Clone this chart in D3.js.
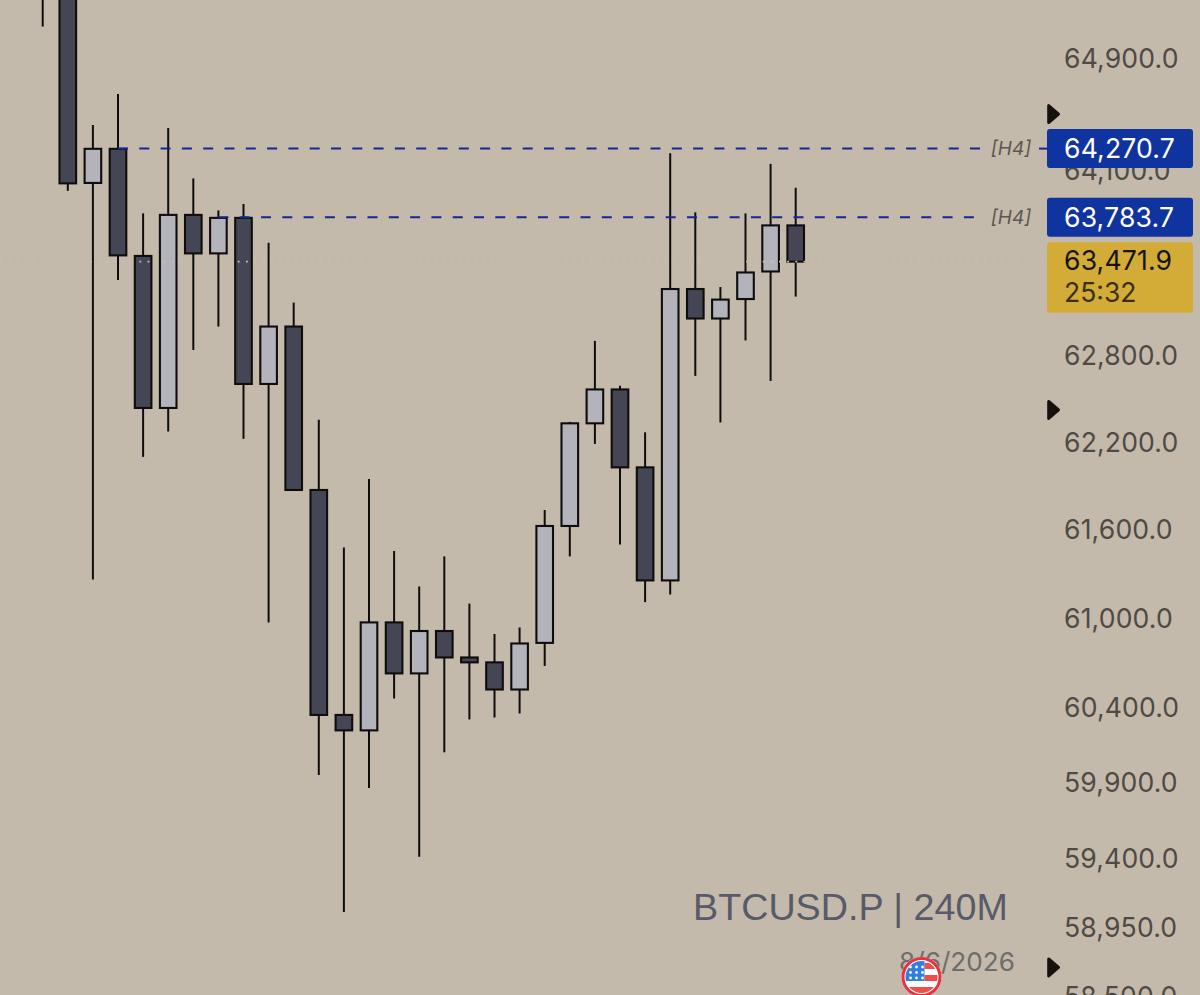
<!DOCTYPE html>
<html>
<head>
<meta charset="utf-8">
<script src="https://cdn.jsdelivr.net/npm/d3@7"></script>
<style>
  html, body { margin: 0; padding: 0; background: #c3baab; }
  svg { display: block; }
  text { font-family: Inter, "Liberation Sans", sans-serif; }
</style>
</head>
<body>
<svg id="chart" width="1200" height="995"></svg>
<script>
// 4h candles. The first two open above the visible area.
const opens  = [65620, 65370, 64027, 64269, 63512, 62453, 63801, 63530, 63780, 62619, 63018, 61889, 60368, 60265, 60989, 60646, 60931, 60753, 60720, 60538, 60851, 61643, 62347, 62581, 62044, 61273, 63280, 63074, 63210, 63403, 63727];
const highs  = [65700, 65450, 64439, 64660, 63812, 64418, 64059, 63833, 63878, 63604, 63185, 62371, 61497, 61965, 61473, 61232, 61436, 61116, 60911, 60955, 61752, 62357, 62918, 62606, 62285, 64237, 63819, 63294, 63812, 64162, 63993];
const lows   = [65144, 63971, 61279, 63343, 62116, 62291, 62855, 63018, 62240, 60989, 61889, 59968, 59066, 59882, 60478, 59428, 60119, 60338, 60351, 60378, 60696, 61436, 62205, 61517, 61126, 61177, 62675, 62353, 62921, 62640, 63227];
const closes = [65370, 64024, 64269, 63516, 62453, 63801, 63530, 63780, 62619, 63018, 61889, 60368, 60265, 60989, 60646, 60931, 60753, 60720, 60538, 60847, 61643, 62347, 62581, 62044, 61273, 63280, 63074, 63206, 63396, 63727, 63471.9];

const tickValues = [64900, 64100, 62800, 62200, 61600, 61000, 60400, 59900, 59400, 58950, 58500];
const levelPrices = [64270.7, 63783.7];
const levelStarts = [3, 7];      // candle the level is drawn from
const levelTag = "[H4]";
const lastPrice = 63471.9;
const countdown = "25:32";
const markerPrices = [64517, 62439, 58705];   // the little arrows on the price scale
const title = "BTCUSD.P | 240M";
const dateLabel = "8/6/2026";

const colors = {
    wick: "#0f0d0b", up: "#b3b3bc", down: "#444656",
    level: "#14298f", badge: "#0f339f", gold: "#d3ac38",
    axis: "#4f4a44", title: "#585a68", date: "#6e6c6c"
};

const candles = opens.map((o, i) => ({i: i, o: o, h: highs[i], l: lows[i], c: closes[i]}));

const svg = d3.select("#chart");
const x = d3.scaleLinear().domain([0, opens.length - 1]).range([42.7, 795.7]);
const y = d3.scaleLog().domain([64900, 58500]).range([60.5, 999.1]);
const fmt = d3.format(",.1f");
const bodyWidth = 16.6;
const labelSize = 26.6;

// price scale first, the badges sit on top of it
const axis = d3.axisRight(y).tickValues(tickValues).tickSize(0).tickPadding(0).tickFormat(fmt);
const axisG = svg.append("g").attr("transform", "translate(1064,-2)").call(axis);
axisG.select(".domain").remove();
axisG.selectAll("text")
    .attr("font-size", labelSize)
    .attr("letter-spacing", 0.15)
    .style("font-family", "Inter, 'Liberation Sans', sans-serif")
    .attr("fill", colors.axis);

// candles
const candle = svg.append("g").selectAll("g").data(candles).enter().append("g");
candle.append("line")
    .attr("x1", d => x(d.i)).attr("x2", d => x(d.i))
    .attr("y1", d => y(d.h)).attr("y2", d => y(d.l))
    .attr("stroke", colors.wick).attr("stroke-width", 2);
candle.append("rect")
    .attr("x", d => x(d.i) - bodyWidth / 2)
    .attr("width", bodyWidth)
    .attr("y", d => y(Math.max(d.o, d.c)))
    .attr("height", d => Math.abs(y(d.o) - y(d.c)))
    .attr("fill", d => d.c > d.o ? colors.up : colors.down)
    .attr("stroke", colors.wick).attr("stroke-width", 2.1);

// last price dotted line
svg.append("line")
    .attr("x1", 0).attr("x2", 1047)
    .attr("y1", y(lastPrice)).attr("y2", y(lastPrice))
    .attr("stroke", "#d0c29c").attr("stroke-width", 1.6)
    .attr("stroke-dasharray", "1.8 6.4");

// H4 levels
levelPrices.forEach((p, i) => {
    let ly = y(p);
    svg.append("line")
        .attr("x1", x(levelStarts[i])).attr("x2", 985)
        .attr("y1", ly).attr("y2", ly)
        .attr("stroke", colors.level).attr("stroke-width", 2)
        .attr("stroke-dasharray", "10 11.3");
    svg.append("text")
        .attr("x", 1011).attr("y", ly + 1)
        .attr("text-anchor", "middle").attr("dominant-baseline", "middle")
        .attr("font-size", 19).attr("font-style", "italic")
        .attr("fill", "#5c574f").text(levelTag);
    if (i === 0) {
        svg.append("line")
            .attr("x1", 1039).attr("x2", 1047)
            .attr("y1", ly).attr("y2", ly)
            .attr("stroke", colors.level).attr("stroke-width", 2);
    }
    svg.append("rect")
        .attr("x", 1047).attr("y", ly - 19.5)
        .attr("width", 146).attr("height", 39).attr("rx", 3)
        .attr("fill", colors.badge);
    svg.append("text")
        .attr("x", 1064).attr("y", ly + 9.5)
        .attr("font-size", labelSize).attr("letter-spacing", 0.15)
        .attr("fill", "#ffffff").text(fmt(p));
});

// gold last price badge with the candle countdown
let gy = y(lastPrice);
svg.append("rect")
    .attr("x", 1047).attr("y", gy - 19.5)
    .attr("width", 146).attr("height", 70.5).attr("rx", 3)
    .attr("fill", colors.gold);
svg.append("text")
    .attr("x", 1064).attr("y", gy + 8)
    .attr("font-size", labelSize).attr("letter-spacing", 0.15)
    .attr("fill", "#17130c").text(fmt(lastPrice));
svg.append("text")
    .attr("x", 1064).attr("y", gy + 40)
    .attr("font-size", 26.5).attr("fill", "#3b2f15").text(countdown);

// arrows
svg.append("g").selectAll("path").data(markerPrices).enter().append("path")
    .attr("d", "M1048.7,-8.5 L1058.5,0 L1048.7,8.5 Z")
    .attr("transform", d => "translate(0," + y(d) + ")")
    .attr("fill", "#14110e").attr("stroke", "#14110e")
    .attr("stroke-width", 3).attr("stroke-linejoin", "round");

// watermark
svg.append("text")
    .attr("x", 693).attr("y", 920)
    .style("font-family", "'Liberation Sans', sans-serif")
    .attr("font-size", 37.7).attr("fill", colors.title).text(title);
svg.append("text")
    .attr("x", 899).attr("y", 971)
    .attr("font-size", 26.2).attr("fill", colors.date).text(dateLabel);

// flag badge
const cx = 921.5, cy = 977, r = 20;
const defs = svg.append("defs");
defs.append("clipPath").attr("id", "flagClip")
    .append("circle").attr("cx", cx).attr("cy", cy).attr("r", r - 4);
const flag = svg.append("g");
flag.append("circle").attr("cx", cx).attr("cy", cy).attr("r", r).attr("fill", "#ffffff");
const flagIn = flag.append("g").attr("clip-path", "url(#flagClip)");
flagIn.append("rect").attr("x", cx - 20).attr("y", cy + 10).attr("width", 40).attr("height", 8).attr("fill", "#ef4f4b");
flagIn.append("rect").attr("x", cx + 3).attr("y", cy - 2).attr("width", 20).attr("height", 6).attr("fill", "#ef4f4b");
flagIn.append("rect").attr("x", cx + 3).attr("y", cy - 14).attr("width", 20).attr("height", 6).attr("fill", "#ef4f4b");
flagIn.append("rect").attr("x", cx - 20).attr("y", cy - 20).attr("width", 23).attr("height", 24).attr("fill", "#2f7fe0");
d3.range(3).forEach(row => d3.range(3).forEach(col => {
    flagIn.append("circle")
        .attr("cx", cx - 11 + col * 6).attr("cy", cy - 10 + row * 5.5)
        .attr("r", 1.4).attr("fill", "#ffffff");
}));
flag.append("circle").attr("cx", cx).attr("cy", cy).attr("r", r - 1.5)
    .attr("fill", "none").attr("stroke", "#e8323f").attr("stroke-width", 3);
</script>
</body>
</html>
